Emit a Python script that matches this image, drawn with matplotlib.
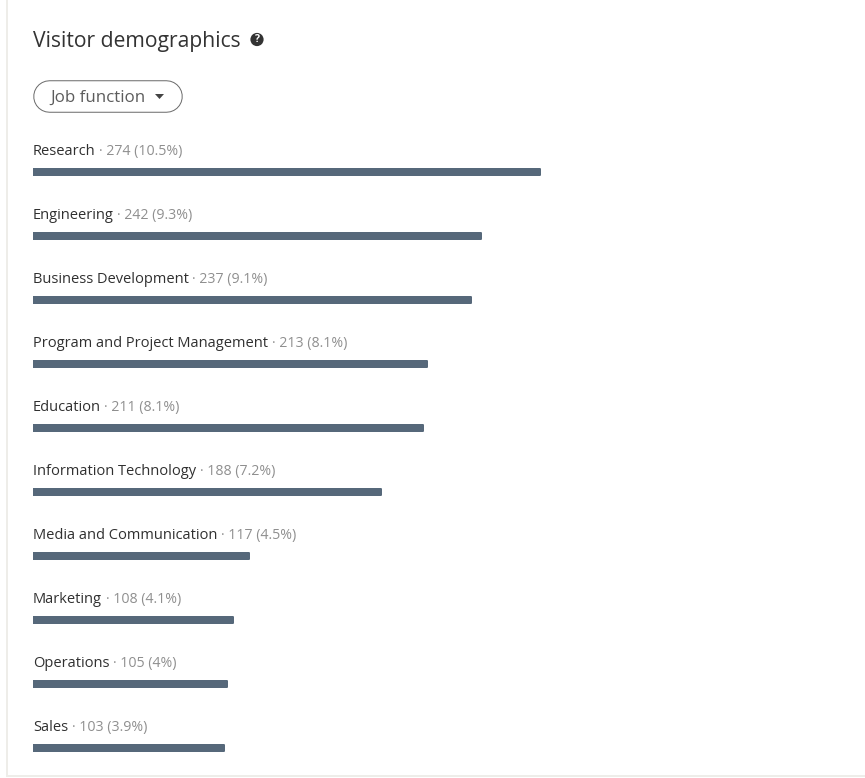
import matplotlib
matplotlib.use('Agg')
import matplotlib.pyplot as plt
from matplotlib.patches import Circle, Polygon

plt.rcParams['font.family'] = ['Open Sans', 'DejaVu Sans']

# job functions, visitor counts and the share shown next to each
functions = ['Research', 'Engineering', 'Business Development',
             'Program and Project Management', 'Education',
             'Information Technology', 'Media and Communication',
             'Marketing', 'Operations', 'Sales']
visitors = [274, 242, 237, 213, 211, 188, 117, 108, 105, 103]
shares = ['10.5%', '9.3%', '9.1%', '8.1%', '8.1%', '7.2%', '4.5%', '4.1%', '4%', '3.9%']

W, H = 865, 778
PX = 0.72  # one pixel in points at dpi 100
fig = plt.figure(figsize=(W / 100, H / 100), dpi=100, facecolor='white')

# overlay in pixel units for the card, header and labels
page = fig.add_axes([0, 0, 1, 1])
page.set_xlim(0, W)
page.set_ylim(H, 0)
page.axis('off')

# card border, left and bottom only
page.plot([6.5, 6.5, 865], [0, 775.5, 775.5], color='#eeede9', lw=2 * PX, solid_joinstyle='miter')

page.text(33, 47, 'Visitor demographics', fontsize=15.2, color='#333333', va='baseline')
page.add_patch(Circle((257, 39.5), 6.6, color='#333333', lw=0))
page.text(257, 39.7, '?', fontsize=7.5, color='white', weight='bold', ha='center', va='center')

# filter pill, a thick round-capped line with a white one on top
page.plot([49, 166], [95.7, 95.7], color='#6b6b6b', lw=32.5 * PX, solid_capstyle='round')
page.plot([49, 166], [95.7, 95.7], color='white', lw=30.5 * PX, solid_capstyle='round')
page.text(50, 102, 'Job function', fontsize=12.2, color='#5c5c5c', va='baseline', zorder=3)
page.add_patch(Polygon([[155, 94], [164, 94], [159.5, 99]], closed=True, fc='#444444', lw=0, zorder=3))

# horizontal bars, one unit of y is one row of 64 px
bars = fig.add_axes([33 / W, 1 - 780 / H, 800 / W, 640 / H])
bars.set_xlim(0, 800 / 1.85)
bars.set_ylim(9.5, -0.5)
bars.axis('off')
bars.patch.set_alpha(0)
bars.barh(range(len(functions)), visitors, height=6 / 64, color='#56687a',
          edgecolor='#56687a', linewidth=2 * PX, joinstyle='round')

# labels have a dark name followed by a lighter count
fig.canvas.draw()
renderer = fig.canvas.get_renderer()
inv = page.transData.inverted()
for i, (name, count, share) in enumerate(zip(functions, visitors, shares)):
    y = 155 + 64 * i
    t = page.text(33, y, name, fontsize=10.5, color='#303030', va='baseline')
    end = inv.transform(t.get_window_extent(renderer))[1][0]
    page.text(end + 3.5, y, f'· {count} ({share})', fontsize=10.2, color='#8f8f8f',
              va='baseline')

fig.savefig('out.png', dpi=100)
